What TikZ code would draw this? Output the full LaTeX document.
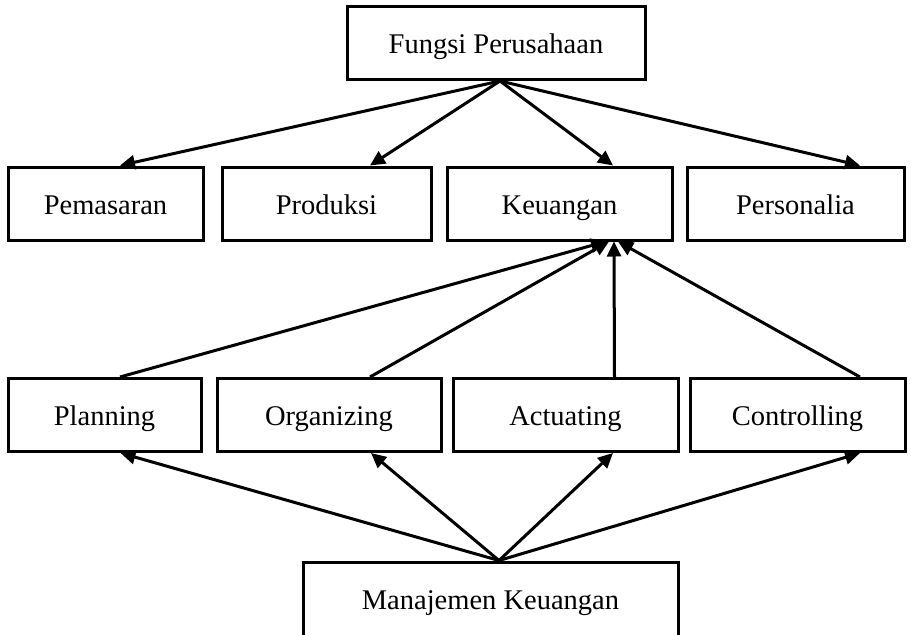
\documentclass[tikz,border=0pt]{standalone}
\usepackage{fontspec}
\setmainfont{Liberation Serif}
\usetikzlibrary{arrows.meta}
\begin{document}
\begin{tikzpicture}[x=1pt,y=-1pt,
  box/.style={draw=black,line width=3pt,fill=white,rectangle,inner sep=0pt,
    minimum height=73pt,text height=24pt,text depth=3pt,
    font=\fontsize{28.5}{31}\selectfont},
  link/.style={line width=3pt,-{Triangle[length=15pt,width=14pt]}}]
\useasboundingbox (0,0) rectangle (911,635);
\begin{scope}
\clip (0,0) rectangle (911,635);
% top level
\node[box,minimum width=298pt] (fungsi) at (496,43) {Fungsi Perusahaan};
% company functions
\node[box,minimum width=195pt] (pem)  at (105.5,203.5) {Pemasaran};
\node[box,minimum width=209pt] (prod) at (326.5,203.5) {Produksi};
\node[box,minimum width=225pt] (keu)  at (559.5,203.5) {Keuangan};
\node[box,minimum width=217pt] (pers) at (795.5,203.5) {Personalia};
% management functions
\node[box,minimum width=193pt] (plan) at (104.5,415) {Planning};
\node[box,minimum width=224pt] (org)  at (329,415) {Organizing};
\node[box,minimum width=225pt] (act)  at (565.5,415) {Actuating};
\node[box,minimum width=215pt] (ctrl) at (797.5,415) {Controlling};
% financial management
\node[box,minimum width=375pt,minimum height=74pt] (man) at (490.5,599) {Manajemen Keuangan};

% Fungsi Perusahaan -> company functions
\draw[link] ([xshift=4pt]fungsi.south) -- ([xshift=14.5pt]pem.north);
\draw[link] ([xshift=4pt]fungsi.south) -- ([xshift=43.5pt]prod.north);
\draw[link] ([xshift=4pt]fungsi.south) -- ([xshift=53.5pt]keu.north);
\draw[link] ([xshift=4pt]fungsi.south) -- ([xshift=64.5pt]pers.north);

% management functions -> Keuangan
\draw[link] ([xshift=15.5pt]plan.north) -- ([xshift=46.5pt]keu.south);
\draw[link] ([xshift=41pt]org.north) -- ([xshift=49.5pt]keu.south);
\draw[link] ([xshift=49pt]act.north) -- ([xshift=54.5pt]keu.south);
\draw[link] ([xshift=62.5pt]ctrl.north) -- ([xshift=58.5pt]keu.south);

% Manajemen Keuangan -> management functions
\draw[link] ([xshift=8.5pt]man.north) -- ([xshift=16pt]plan.south);
\draw[link] ([xshift=8.5pt]man.north) -- ([xshift=42pt]org.south);
\draw[link] ([xshift=8.5pt]man.north) -- ([xshift=47.5pt]act.south);
\draw[link] ([xshift=8.5pt]man.north) -- ([xshift=62.5pt]ctrl.south);
\end{scope}
\end{tikzpicture}
\end{document}
